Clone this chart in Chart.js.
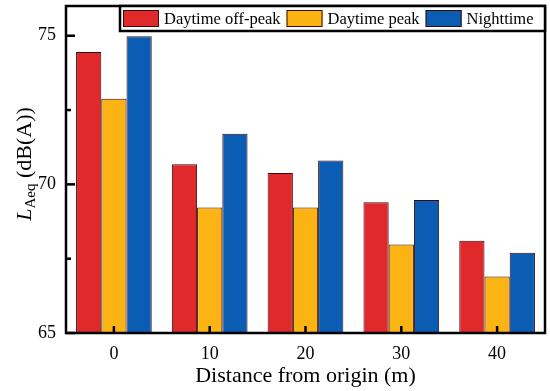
<!DOCTYPE html>
<html>
<head>
<meta charset="utf-8">
<script src="https://cdn.jsdelivr.net/npm/chart.js@4"></script>
<style>
  html, body { margin: 0; padding: 0; background: #fff; }
  #wrap { width: 550px; height: 391px; }
</style>
</head>
<body>
<div id="wrap"><canvas id="chart"></canvas></div>
<script>
// distances along the route
const distances = ["0", "10", "20", "30", "40"];
const seriesNames = ["Daytime off-peak", "Daytime peak", "Nighttime"];
// LAeq values, dB(A)
const offPeak = [74.45, 70.68, 70.38, 69.40, 68.10];
const peak = [72.88, 69.22, 69.22, 67.98, 66.90];
const night = [74.98, 71.70, 70.80, 69.47, 67.70];
const yTickLabels = [65, 70, 75];

const barColors = ["#e0292a", "#fbb414", "#0b5cb3"];
const FONT = "'Liberation Serif', 'Times New Roman', serif";

// frame, inward ticks, axis title and inner legend
const decorations = {
    id: "decorations",
    afterDraw(chart) {
        const ctx = chart.ctx;
        const a = chart.chartArea;
        const x = chart.scales.x;
        const y = chart.scales.y;
        ctx.save();
        ctx.strokeStyle = "#000";
        ctx.lineWidth = 2.5;
        ctx.strokeRect(a.left, a.top, a.right - a.left, a.bottom - a.top);

        // y ticks (major every 5, minor at 2.5)
        for (let v = 65; v <= 75; v += 2.5) {
            const py = y.getPixelForValue(v);
            const len = v % 5 === 0 ? 9 : 5;
            ctx.beginPath();
            ctx.moveTo(a.left, py);
            ctx.lineTo(a.left + len, py);
            ctx.stroke();
        }
        // x ticks
        distances.forEach((d, i) => {
            const px = x.getPixelForValue(i);
            ctx.beginPath();
            ctx.moveTo(px, a.bottom);
            ctx.lineTo(px, a.bottom - 7);
            ctx.stroke();
        });

        // y title: L_Aeq (dB(A))
        ctx.translate(25, 164);
        ctx.rotate(-Math.PI / 2);
        ctx.fillStyle = "#000";
        ctx.textBaseline = "middle";
        ctx.font = "italic 22px " + FONT;
        const wL = ctx.measureText("L").width;
        ctx.font = "15px " + FONT;
        const wSub = ctx.measureText("Aeq").width;
        ctx.font = "22px " + FONT;
        const rest = " (dB(A))";
        const wRest = ctx.measureText(rest).width;
        let sx = -(wL + wSub + wRest) / 2;
        ctx.font = "italic 22px " + FONT;
        ctx.fillText("L", sx, 0);
        sx += wL;
        ctx.font = "15px " + FONT;
        ctx.fillText("Aeq", sx, 6);
        sx += wSub;
        ctx.font = "22px " + FONT;
        ctx.fillText(rest, sx, 0);
        ctx.restore();

        // legend box in the top right corner
        ctx.save();
        const lx = 120, ly = a.top, lw = a.right - lx, lh = 25;
        ctx.fillStyle = "#fff";
        ctx.fillRect(lx, ly, lw, lh);
        ctx.strokeStyle = "#000";
        ctx.lineWidth = 2.5;
        ctx.strokeRect(lx, ly, lw, lh);
        ctx.font = "16.5px " + FONT;
        ctx.textBaseline = "middle";
        let cx = lx + 3;
        chart.data.datasets.forEach((ds) => {
            ctx.fillStyle = ds.backgroundColor;
            ctx.fillRect(cx, ly + 4, 36, 17);
            ctx.strokeStyle = "#3a0a0a";
            ctx.lineWidth = 1;
            ctx.strokeRect(cx + 0.5, ly + 4.5, 35, 16);
            cx += 41;
            ctx.fillStyle = "#000";
            ctx.fillText(ds.label, cx, ly + lh / 2 + 1);
            cx += ctx.measureText(ds.label).width + 6;
        });
        ctx.restore();
    }
};

new Chart(document.getElementById("chart"), {
    type: "bar",
    plugins: [decorations],
    data: {
        labels: distances,
        datasets: [offPeak, peak, night].map((vals, i) => ({
            label: seriesNames[i],
            data: vals,
            backgroundColor: barColors[i],
            borderColor: "#3a0a0a",
            borderWidth: 1,
            borderSkipped: "bottom",
            barPercentage: 1.0,
            categoryPercentage: 0.79
        }))
    },
    options: {
        responsive: true,
        maintainAspectRatio: false,
        animation: false,
        layout: { padding: { top: 6, right: 5, left: 0, bottom: 0 } },
        plugins: {
            legend: { display: false },
            tooltip: { enabled: false }
        },
        scales: {
            x: {
                grid: { display: false },
                border: { display: false },
                ticks: { color: "#000", font: { family: FONT, size: 18 }, padding: 2 },
                title: {
                    display: true,
                    text: "Distance from origin (m)",
                    color: "#000",
                    font: { family: FONT, size: 22 },
                    padding: { top: 0, bottom: 2 }
                },
                afterFit: (s) => {
                    s.height = 58;
                    s.paddingLeft = 0;
                    s.paddingRight = 0;
                }
            },
            y: {
                min: 65,
                max: 76,
                grid: { display: false },
                border: { display: false },
                ticks: {
                    stepSize: 5,
                    color: "#000",
                    font: { family: FONT, size: 18 },
                    padding: 2,
                    callback: (v) => (yTickLabels.includes(v) ? v : "")
                },
                afterFit: (s) => {
                    s.width = 66;
                    s.paddingTop = 0;
                    s.paddingBottom = 0;
                }
            }
        }
    }
});
</script>
</body>
</html>
